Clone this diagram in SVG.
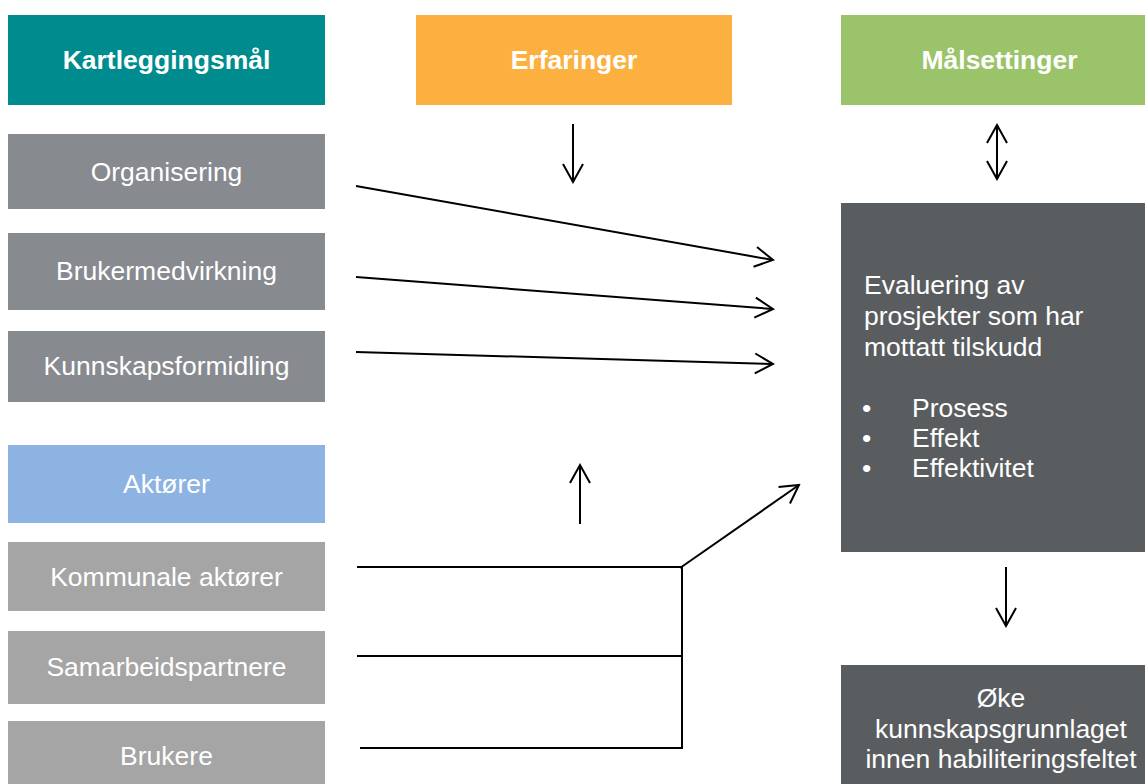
<svg xmlns="http://www.w3.org/2000/svg" width="1145" height="784" viewBox="0 0 1145 784">
  <style>
    text { font-family: "Liberation Sans", Arial, sans-serif; font-size: 26.5px; fill: #ffffff; }
    .c { text-anchor: middle; }
    .b { font-weight: bold; }
    .ln { stroke: #000000; stroke-width: 2; fill: none; }
  </style>
  <defs>
    <marker id="arrow" markerUnits="userSpaceOnUse" viewBox="-20 -12 22 24" refX="0" refY="0" markerWidth="22" markerHeight="24" orient="auto-start-reverse">
      <path d="M-18,-10 L0,0 L-18,10" fill="none" stroke="#000000" stroke-width="2"/>
    </marker>
  </defs>
  <rect width="1145" height="784" fill="#ffffff"/>

  <!-- column headers -->
  <g id="kartleggingsmal">
    <rect x="8" y="15" width="317" height="90" fill="#008C8E"/>
    <text class="c b" x="166.5" y="69">Kartleggingsmål</text>
  </g>
  <g id="erfaringer">
    <rect x="416" y="15" width="316" height="90" fill="#FBB040"/>
    <text class="c b" x="574" y="69">Erfaringer</text>
  </g>
  <g id="malsettinger">
    <rect x="841" y="15" width="317" height="90" fill="#9BC46A"/>
    <text class="c b" x="999.5" y="69">Målsettinger</text>
  </g>

  <!-- mapping goals -->
  <g id="organisering">
    <rect x="8" y="134" width="317" height="75" fill="#878A8F"/>
    <text class="c" x="166.5" y="181">Organisering</text>
  </g>
  <g id="brukermedvirkning">
    <rect x="8" y="233" width="317" height="77" fill="#878A8F"/>
    <text class="c" x="166.5" y="280">Brukermedvirkning</text>
  </g>
  <g id="kunnskapsformidling">
    <rect x="8" y="331" width="317" height="71" fill="#878A8F"/>
    <text class="c" x="166.5" y="375">Kunnskapsformidling</text>
  </g>

  <!-- actors -->
  <g id="aktorer">
    <rect x="8" y="445" width="317" height="78" fill="#8DB3E2"/>
    <text class="c" x="166.5" y="493">Aktører</text>
  </g>
  <g id="kommunale">
    <rect x="8" y="542" width="317" height="69" fill="#A5A5A5"/>
    <text class="c" x="166.5" y="586">Kommunale aktører</text>
  </g>
  <g id="samarbeidspartnere">
    <rect x="8" y="631" width="317" height="73" fill="#A5A5A5"/>
    <text class="c" x="166.5" y="676">Samarbeidspartnere</text>
  </g>
  <g id="brukere">
    <rect x="8" y="721" width="317" height="75" fill="#A5A5A5"/>
    <text class="c" x="166.5" y="765">Brukere</text>
  </g>

  <!-- evaluation -->
  <g id="evaluering">
    <rect x="841" y="203" width="317" height="349" fill="#5A5D60"/>
    <text x="864" y="294">Evaluering av</text>
    <text x="864" y="325">prosjekter som har</text>
    <text x="864" y="356">mottatt tilskudd</text>
    <text x="862" y="417">•</text>
    <text x="912" y="417">Prosess</text>
    <text x="862" y="447">•</text>
    <text x="912" y="447">Effekt</text>
    <text x="862" y="477">•</text>
    <text x="912" y="477">Effektivitet</text>
  </g>

  <!-- outcome -->
  <g id="oke">
    <rect x="841" y="665" width="320" height="130" fill="#5A5D60"/>
    <text class="c" x="1001" y="707">Øke</text>
    <text class="c" x="1001" y="738">kunnskapsgrunnlaget</text>
    <text class="c" x="1001" y="768">innen habiliteringsfeltet</text>
  </g>

  <!-- connectors -->
  <g id="connectors">
    <line class="ln" x1="573" y1="124" x2="573" y2="182" marker-end="url(#arrow)"/>
    <line class="ln" x1="997" y1="125" x2="997" y2="179" marker-start="url(#arrow)" marker-end="url(#arrow)"/>
    <line class="ln" x1="356" y1="186" x2="773" y2="260" marker-end="url(#arrow)"/>
    <line class="ln" x1="356" y1="277" x2="773" y2="309" marker-end="url(#arrow)"/>
    <line class="ln" x1="356" y1="352" x2="773" y2="364" marker-end="url(#arrow)"/>
    <line class="ln" x1="580" y1="524" x2="580" y2="465" marker-end="url(#arrow)"/>
    <line class="ln" x1="357" y1="567" x2="681" y2="567"/>
    <line class="ln" x1="357" y1="656" x2="682" y2="656"/>
    <line class="ln" x1="360" y1="748" x2="682" y2="748"/>
    <line class="ln" x1="682" y1="567" x2="682" y2="749"/>
    <line class="ln" x1="680" y1="568" x2="799" y2="485" marker-end="url(#arrow)"/>
    <line class="ln" x1="1006" y1="567" x2="1006" y2="626" marker-end="url(#arrow)"/>
  </g>
</svg>
